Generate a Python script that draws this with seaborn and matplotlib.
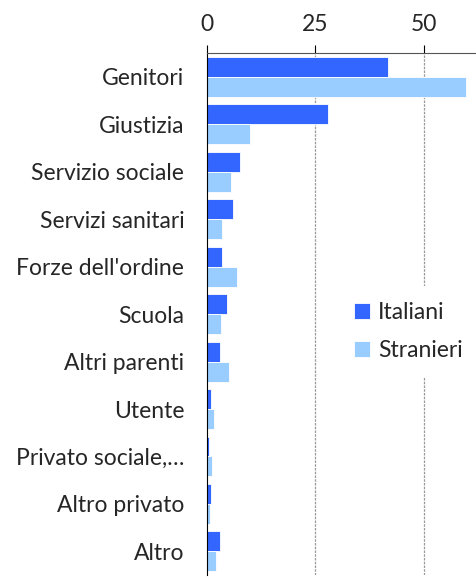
import matplotlib
matplotlib.use("Agg")
import matplotlib.pyplot as plt
import seaborn as sns
import numpy as np
import pandas as pd

categorie = ["Genitori", "Giustizia", "Servizio sociale", "Servizi sanitari",
             "Forze dell'ordine", "Scuola", "Altri parenti", "Utente",
             "Privato sociale,…", "Altro privato", "Altro"]
italiani = [41.6, 27.8, 7.7, 6.0, 3.6, 4.7, 3.0, 1.0, 0.6, 1.0, 3.1]
stranieri = [59.7, 9.9, 5.6, 3.6, 7.0, 3.3, 5.2, 1.6, 1.2, 0.7, 2.2]
serie = ["Italiani", "Stranieri"]
colori = ["#3366FF", "#99CCFF"]

df = pd.DataFrame({
    "categoria": categorie * 2,
    "valore": italiani + stranieri,
    "gruppo": [serie[0]] * len(categorie) + [serie[1]] * len(categorie),
})

sns.set_style("white")
plt.rcParams["font.family"] = ["Lato", "DejaVu Sans"]

fig = plt.figure(figsize=(4.76, 5.78), dpi=100)
ax = fig.add_axes([0.434, 0.005, 0.566, 0.903])

sns.barplot(data=df, x="valore", y="categoria", hue="gruppo", orient="h",
            palette=colori, saturation=1, width=0.84, edgecolor="white",
            linewidth=0.6, ax=ax, legend=True)

ax.set_xlim(0, 61.9)
ax.set_ylim(len(categorie) - 0.5, -0.5)
ax.set_xticks([0, 25, 50])
ax.xaxis.tick_top()
ax.set_xlabel("")
ax.set_ylabel("")
ax.tick_params(axis="x", labelsize=16.5, length=6, color="black", pad=7)
ax.tick_params(axis="y", which="major", length=0, labelsize=16.5, pad=16)
ax.set_yticks(np.arange(-0.5, len(categorie), 1), minor=True)
ax.tick_params(axis="y", which="minor", length=8, color="#777777", width=1.2)

for v in [25, 50]:
    ax.axvline(v, color="#999999", linestyle=(0, (2, 1)), linewidth=0.9, zorder=0)

for s in ["right", "bottom"]:
    ax.spines[s].set_visible(False)
ax.spines["left"].set_color("black")
ax.spines["top"].set_color("#555555")

leg = ax.legend(loc="center left", bbox_to_anchor=(0.445, 0.467), frameon=True,
                fontsize=16.5, handlelength=0.7, handleheight=0.7,
                handletextpad=0.35, labelspacing=0.75, borderpad=0.7)
leg.get_frame().set_edgecolor("none")
leg.get_frame().set_facecolor("white")
leg.get_frame().set_alpha(1)

fig.savefig("out.png", dpi=100)
